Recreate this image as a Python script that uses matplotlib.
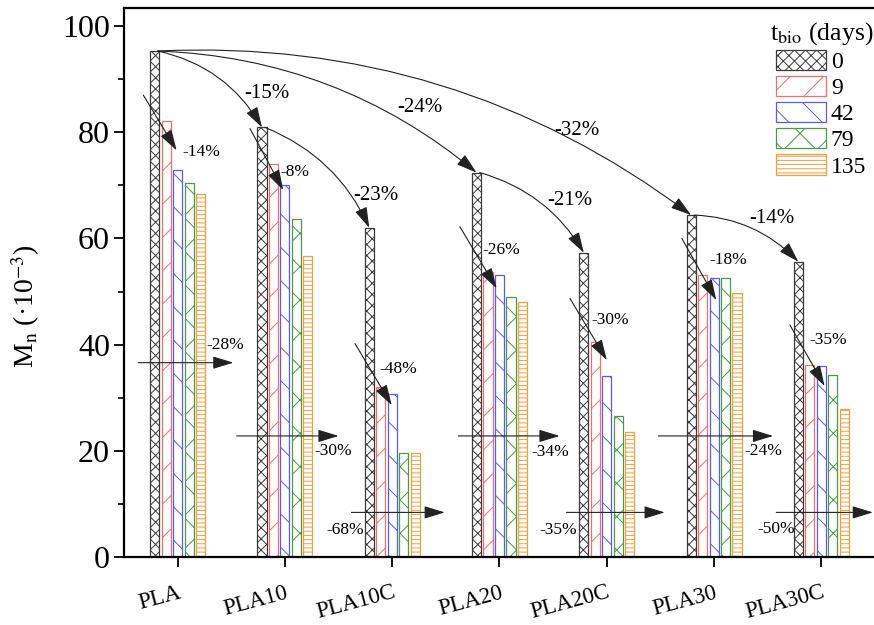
import matplotlib
matplotlib.use("Agg")
import matplotlib.pyplot as plt
import numpy as np
from matplotlib.ticker import MultipleLocator

plt.rcParams['font.family'] = ['Liberation Serif', 'DejaVu Serif']
plt.rcParams['mathtext.fontset'] = 'stix'
plt.rcParams['hatch.linewidth'] = 0.7

# ---- data ----
groups = ['PLA', 'PLA10', 'PLA10C', 'PLA20', 'PLA20C', 'PLA30', 'PLA30C']
days = ['0', '9', '42', '79', '135']
d0 = [95.3, 80.9, 62.0, 72.4, 57.3, 64.4, 55.6]
d9 = [82.2, 74.1, 32.1, 53.6, 40.4, 53.1, 36.2]
d42 = [72.9, 70.1, 30.7, 53.1, 34.1, 52.6, 36.0]
d79 = [70.4, 63.6, 19.6, 48.9, 26.6, 52.6, 34.3]
d135 = [68.3, 56.7, 19.5, 48.0, 23.6, 49.7, 27.9]
series = [d0, d9, d42, d79, d135]

colors = ['#3a3a3a', '#f07070', '#5a5af0', '#4a9a4a', '#f0a040']
hatches = ['xxx', '/', '\\', 'x', '----']

# curved arrows between control (0 day) bars
big_pairs = [(0, 1), (0, 3), (0, 5), (1, 2), (3, 4), (5, 6)]
big_labels = ['-15%', '-24%', '-32%', '-23%', '-21%', '-14%']
big_label_pos = [(1.83, 87.3), (3.26, 84.7), (4.72, 80.4), (2.85, 68.0), (4.66, 67.2), (6.54, 63.8)]
big_rad = [-0.22, -0.17, -0.18, -0.2, -0.2, -0.2]

# small diagonal arrows
diag_start = [(0.68, 87.0), (1.674, 80.7), (2.653, 40.2), (3.631, 62.2), (4.657, 48.7), (5.70, 60.0), (6.707, 43.7)]
diag_end = [(0.99, 76.6), (1.984, 69.1), (2.995, 28.6), (3.973, 50.6), (5.0, 37.1), (6.02, 48.4), (7.03, 32.2)]
diag_labels = ['-14%', '-8%', '-48%', '-26%', '-30%', '-18%', '-35%']
diag_label_pos = [(1.22, 76.3), (2.09, 72.6), (3.056, 35.5), (4.02, 57.8), (5.03, 44.6), (6.13, 55.9), (7.06, 40.9)]

# horizontal arrows
hor_x0 = [0.633, 1.55, 2.62, 3.615, 4.625, 5.48, 6.58]
hor_x1 = [1.52, 2.50, 3.49, 4.56, 5.54, 6.55, 7.48]
hor_y = [36.6, 22.8, 8.4, 22.8, 8.4, 22.8, 8.4]
hor_labels = ['-28%', '-30%', '-68%', '-34%', '-35%', '-24%', '-50%']
hor_label_pos = [(1.44, 39.9), (2.45, 20.0), (2.56, 5.1), (4.47, 19.8), (4.55, 5.1), (6.46, 20.0), (6.58, 5.2)]

# ---- figure ----
fig = plt.figure(figsize=(8.74, 6.25), dpi=100)
ax = fig.add_axes([124/874, 68/625, 751/874, 549/625])

x = np.arange(1, len(groups) + 1)
pitch = 0.107
width = 0.085
for k, vals in enumerate(series):
    ax.bar(x + (k - 2) * pitch, vals, width, facecolor='white', edgecolor=colors[k],
           hatch=hatches[k], linewidth=0.9, label=days[k], zorder=2)

ax.set_xlim(0.5, 7.5)
ax.set_ylim(0, 103.4)

arrow_kw = dict(color='#222222', lw=0.8, shrinkA=0, shrinkB=0,
                mutation_scale=15)
style = '-|>,head_length=0.85,head_width=0.26'

for (i, j), lab, pos, rad in zip(big_pairs, big_labels, big_label_pos, big_rad):
    xs = x[i] - 2 * pitch + 0.03
    xe = x[j] - 2 * pitch
    ax.annotate('', xy=(xe, d0[j]), xytext=(xs, d0[i]),
                arrowprops=dict(arrowstyle=style, connectionstyle=f'arc3,rad={rad}', **arrow_kw),
                zorder=5)
    ax.text(pos[0], pos[1], lab, ha='center', va='center', fontsize=15, zorder=6)

for s, e, lab, pos in zip(diag_start, diag_end, diag_labels, diag_label_pos):
    ax.annotate('', xy=e, xytext=s,
                arrowprops=dict(arrowstyle=style, **arrow_kw), zorder=5)
    ax.text(pos[0], pos[1], lab, ha='center', va='center', fontsize=12.5, zorder=6)

for x0, x1, y, lab, pos in zip(hor_x0, hor_x1, hor_y, hor_labels, hor_label_pos):
    ax.annotate('', xy=(x1, y), xytext=(x0, y),
                arrowprops=dict(arrowstyle=style, **arrow_kw), zorder=5)
    ax.text(pos[0], pos[1], lab, ha='center', va='center', fontsize=12.5, zorder=6)

# axes styling
for side in ['left', 'bottom', 'top']:
    ax.spines[side].set_linewidth(1.6)
ax.spines['right'].set_visible(False)

ax.yaxis.set_major_locator(MultipleLocator(20))
ax.yaxis.set_minor_locator(MultipleLocator(10))
ax.tick_params(axis='y', which='major', direction='out', length=7, width=1.3,
               labelsize=23, pad=3)
ax.tick_params(axis='y', which='minor', direction='out', length=4, width=1.2)
ax.tick_params(axis='x', which='major', direction='out', length=7, width=1.3, pad=11)
ax.set_xticks(x)
ax.set_xticklabels(groups, rotation=15, ha='right', rotation_mode='anchor', fontsize=16.5)

ax.set_ylabel(r'M$_\mathrm{n}$ (·10$^{-3}$)', fontsize=20)
ax.yaxis.set_label_coords(-0.109, 0.457)

leg = ax.legend(title=r't$_\mathrm{bio}$ (days)', loc='upper right',
                bbox_to_anchor=(873/874, 1 - 20/625), bbox_transform=fig.transFigure,
                frameon=False, fontsize=17, title_fontsize=18.5,
                handlelength=2.1, handleheight=0.95, labelspacing=0.12,
                handletextpad=0.2, borderpad=0, borderaxespad=0)

fig.savefig('out.png', dpi=100)
